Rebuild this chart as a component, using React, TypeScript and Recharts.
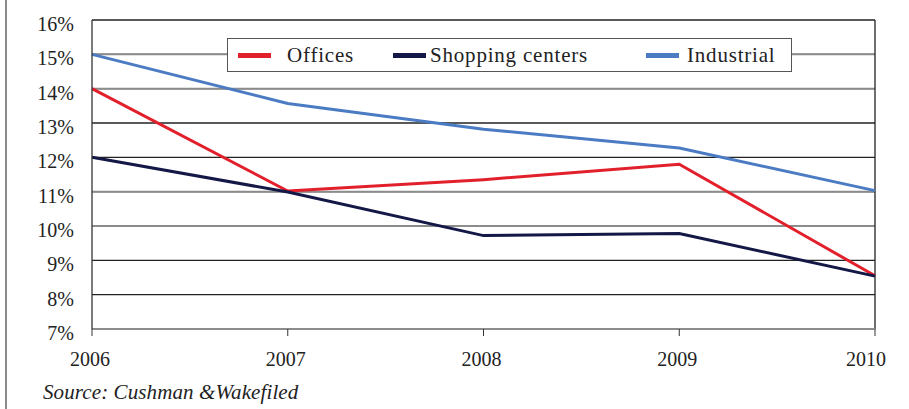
import { CartesianGrid, Line, LineChart, ReferenceLine, XAxis, YAxis } from 'recharts'

const years = ['2006', '2007', '2008', '2009', '2010']
const offices = [14.0, 11.02, 11.35, 11.8, 8.55]
const shoppingCenters = [12.0, 10.99, 9.72, 9.78, 8.54]
const industrial = [15.0, 13.57, 12.82, 12.27, 11.03]
const yTicks = [7, 8, 9, 10, 11, 12, 13, 14, 15, 16]

const SERIES = [
  { key: 'offices', label: 'Offices', color: '#e2202b' },
  { key: 'shopping', label: 'Shopping centers', color: '#131846' },
  { key: 'industrial', label: 'Industrial', color: '#4a7bc3' }
]

const FONT = 'Liberation Serif, Times New Roman, serif'
const TEXT = '#222'

// the scan shows some grid rules lighter than others
const LIGHT_RULES = [7, 10, 11, 14, 15]

const chartData = years.map((year, i) => ({
  year,
  offices: offices[i],
  shopping: shoppingCenters[i],
  industrial: industrial[i]
}))

function YTick({ x, y, payload }: any) {
  return (
    <text x={x} y={y} dy={11} textAnchor="end" fill={TEXT} fontSize={20} fontFamily={FONT}>
      {payload.value}%
    </text>
  )
}

function XTick({ x, y, payload, index }: any) {
  const last = index === years.length - 1
  return (
    <text x={x} y={y} dy={24} dx={last ? -9 : -2} textAnchor="middle" fill={TEXT} fontSize={20} fontFamily={FONT}>
      {payload.value}
    </text>
  )
}

const legendSlots = [
  { left: 10, gap: 16 },
  { left: 165, gap: 4 },
  { left: 418, gap: 8 }
]

function LegendBox() {
  return (
    <div
      style={{
        position: 'absolute',
        left: 227,
        top: 38,
        width: 565,
        height: 34,
        boxSizing: 'border-box',
        border: '1px solid #555',
        background: '#fff',
        fontFamily: FONT,
        fontSize: 21,
        color: TEXT
      }}
    >
      {SERIES.map((s, i) => (
        <div
          key={s.key}
          style={{
            position: 'absolute',
            left: legendSlots[i].left,
            top: 0,
            height: 32,
            display: 'flex',
            alignItems: 'center',
            whiteSpace: 'nowrap'
          }}
        >
          <span style={{ display: 'inline-block', width: 33, height: 5, background: s.color, marginRight: legendSlots[i].gap }} />
          <span style={{ letterSpacing: 0.8 }}>{s.label}</span>
        </div>
      ))}
    </div>
  )
}

export default function App() {
  return (
    <div style={{ position: 'absolute', left: 0, top: 0, width: 909, height: 409, background: '#fff', overflow: 'hidden' }}>
      <div style={{ position: 'absolute', left: 5, top: 0, width: 2, height: 409, background: '#8a8a8a' }} />
      <LineChart width={909} height={409} data={chartData} margin={{ top: 20, right: 34, bottom: 50, left: 0 }}>
        <CartesianGrid vertical={false} stroke="#222" strokeWidth={1.3} />
        {LIGHT_RULES.map((v) => (
          <ReferenceLine key={v} y={v} stroke="#8c8c8c" strokeWidth={2} />
        ))}
        <ReferenceLine x="2010" stroke="#222" strokeWidth={1.3} />
        <XAxis
          dataKey="year"
          height={30}
          tick={<XTick />}
          tickSize={7}
          tickMargin={6}
          axisLine={{ stroke: '#8c8c8c', strokeWidth: 2 }}
          tickLine={{ stroke: '#333' }}
        />
        <YAxis
          domain={[7, 16]}
          ticks={yTicks}
          width={92}
          tick={<YTick />}
          tickSize={0}
          tickMargin={18}
          tickLine={false}
          axisLine={{ stroke: '#333', strokeWidth: 1.3 }}
        />
        {SERIES.map((s) => (
          <Line
            key={s.key}
            type="linear"
            dataKey={s.key}
            name={s.label}
            stroke={s.color}
            strokeWidth={3}
            dot={false}
            activeDot={false}
            isAnimationActive={false}
          />
        ))}
      </LineChart>
      <LegendBox />
      <div
        style={{
          position: 'absolute',
          left: 43,
          top: 380,
          fontFamily: FONT,
          fontStyle: 'italic',
          fontSize: 21,
          color: TEXT,
          letterSpacing: 0.1,
          whiteSpace: 'nowrap'
        }}
      >
        Source: Cushman &amp;Wakefiled
      </div>
    </div>
  )
}
